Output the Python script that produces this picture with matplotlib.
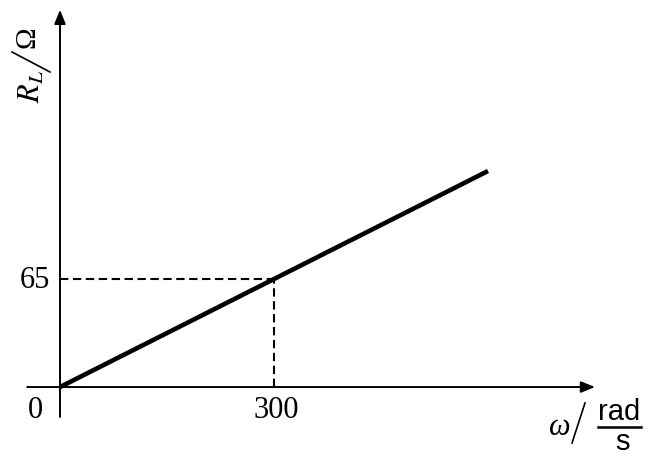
import matplotlib
matplotlib.use("Agg")
import matplotlib.pyplot as plt

# Data
omega = [0, 600]          # rad/s
R_L = [0, 130]            # Ohm
mark_omega = 300
mark_R = 65
tick_x_labels = ["0", "300"]
tick_y_labels = ["65"]

W, H = 655, 457
fig = plt.figure(figsize=(W / 100, H / 100), dpi=100)
ax = fig.add_axes([0, 0, 1, 1])
ax.set_xlim(-84.1, 834.1)
ax.set_ylim(-42.1, 232.9)
ax.axis("off")

serif = "Liberation Serif"
sans = "Liberation Sans"

arrow_style = "-|>,head_length=0.42,head_width=0.17"
# axes with arrows
ax.annotate("", xy=(750, 0), xytext=(-46, 0),
            arrowprops=dict(arrowstyle=arrow_style, lw=1.4, color="black",
                            mutation_scale=20, shrinkA=0, shrinkB=0))
ax.annotate("", xy=(0, 227), xytext=(0, -18),
            arrowprops=dict(arrowstyle=arrow_style, lw=1.4, color="black",
                            mutation_scale=20, shrinkA=0, shrinkB=0))

# main line
ax.plot(omega, R_L, color="black", lw=3.3, solid_capstyle="butt")

# dashed guides
ax.plot([0, mark_omega], [mark_R, mark_R], color="black", lw=1.5,
        dashes=(4.0, 2.2))
ax.plot([mark_omega, mark_omega], [0, mark_R], color="black", lw=1.5,
        dashes=(4.0, 2.2))

fs = 22
# tick labels
ax.annotate(tick_y_labels[0], xy=(0, mark_R), xytext=(-10, -9),
            textcoords="offset pixels", ha="right", va="baseline",
            fontsize=fs, family=serif)
ax.annotate(tick_x_labels[0], xy=(0, 0), xytext=(-25, -31),
            textcoords="offset pixels", ha="center", va="baseline",
            fontsize=fs, family=serif)
ax.annotate(tick_x_labels[1], xy=(mark_omega, 0), xytext=(2, -31),
            textcoords="offset pixels", ha="center", va="baseline",
            fontsize=fs, family=serif)


def px(x, y):
    return x / W, 1 - y / H


# y label: R_L / Omega (rotated)
fig.text(*px(32, 87), "$R_L$", rotation=90, ha="center", va="center",
         fontsize=fs, family=serif, math_fontfamily="stix")
fig.add_artist(plt.Line2D([12 / W, 50 / W], [1 - 52 / H, 1 - 72 / H],
                          color="black", lw=1.2))
fig.text(*px(27, 37.5), "Ω", rotation=90, ha="center", va="center",
         fontsize=fs - 1, family=serif)

# x label: omega / (rad / s)
fig.text(*px(560, 435), "ω", ha="center", va="baseline",
         fontsize=fs, family=serif, style="italic")
fig.add_artist(plt.Line2D([572 / W, 585 / W], [1 - 443 / H, 1 - 403 / H],
                          color="black", lw=1.2))
fig.text(*px(619, 420), "rad", ha="center", va="baseline",
         fontsize=fs - 1, family=sans)
fig.text(*px(622, 450), "s", ha="center", va="baseline",
         fontsize=fs - 1, family=sans)
fig.add_artist(plt.Line2D([598 / W, 641 / W], [1 - 427 / H, 1 - 427 / H],
                          color="black", lw=1.8))

fig.savefig("out.png", dpi=100)
